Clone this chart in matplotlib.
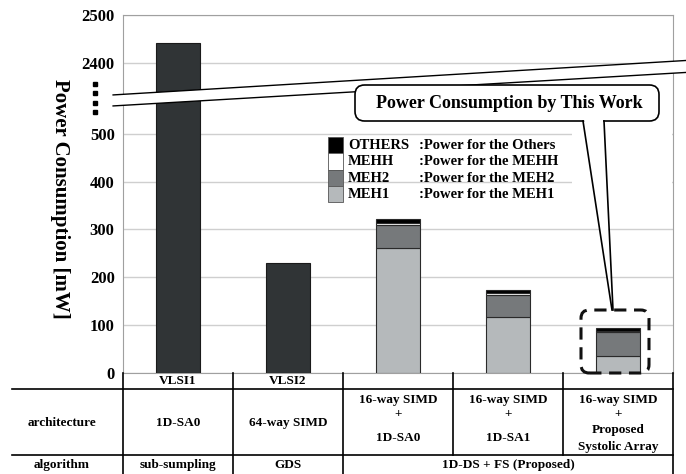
import matplotlib
matplotlib.use('Agg')
import matplotlib.pyplot as plt
import matplotlib.transforms as mtransforms
from matplotlib.patches import Rectangle, FancyBboxPatch, Polygon
from matplotlib.lines import Line2D
import numpy as np

plt.rcParams['font.family'] = ['Liberation Serif', 'DejaVu Serif']
plt.rcParams['font.weight'] = 'bold'

# data
chips = ['VLSI1', 'VLSI2', '', '', '']
arch_lines = [['1D-SA0'], ['64-way SIMD'], ['16-way SIMD', '+', '1D-SA0'],
              ['16-way SIMD', '+', '1D-SA1'],
              ['16-way SIMD', '+', 'Proposed', 'Systolic Array']]
algorithms = ['sub-sumpling', 'GDS', '1D-DS + FS (Proposed)']
algo_span = [(0, 0), (1, 1), (2, 4)]

single_power = [2442, 230]        # VLSI1, VLSI2
meh1 = [262, 116, 36]
meh2 = [48, 48, 49]
mehh = [4, 4, 3]
others = [7, 6, 6]

parts = ['MEH1', 'MEH2', 'MEHH', 'OTHERS']
part_desc = [':Power for the MEH1', ':Power for the MEH2', ':Power for the MEHH', ':Power for the Others']
part_colors = ['#b5b9bb', '#76797b', '#ffffff', '#000000']

W, H = 686, 474
SHIFT = 2400 - 648   # squash the gap 500..2400


def squash(v):
    v = np.asarray(v, dtype=float)
    return np.where(v > 500, v - SHIFT, v)


def fp(x, y):
    # pixel position -> figure fraction
    return x / W, 1 - y / H


fig = plt.figure(figsize=(W / 100, H / 100), dpi=100)
ax = fig.add_axes([123 / W, 1 - 373 / H, 550 / W, 358 / H])

x = np.arange(len(chips))
ax.bar(x[:2], squash(single_power), width=0.4, color='#303436',
       edgecolor='#1a1a1a', linewidth=0.8, zorder=3)
bottom = np.zeros(3)
for vals, col in zip([meh1, meh2, mehh, others], part_colors):
    ax.bar(x[2:], vals, width=0.4, bottom=bottom, color=col,
           edgecolor='#2a2a2a', linewidth=0.8, zorder=3)
    bottom += np.array(vals)

ax.set_xlim(-0.5, 4.5)
ax.set_ylim(0, 747)
yt = [0, 100, 200, 300, 400, 500, 2400, 2500]
ax.set_yticks(squash(yt))
ax.set_yticklabels([str(v) for v in yt])
ax.set_xticks([])
ax.tick_params(length=0, labelsize=12, pad=6)
ax.set_axisbelow(True)
ax.yaxis.grid(True, color='#cfcfcf', linewidth=1)
for s in ax.spines.values():
    s.set_color('#a0a0a0')

fig.text(60 / W, 1 - 199 / H, 'Power Consumption [mW]', rotation=270,
         ha='center', va='center', fontsize=15)

# axis break band
bt = mtransforms.blended_transform_factory(ax.transAxes, ax.transData)
xl, xr = -0.018, 1.024
band = Polygon([(xl, 558), (xl, 581), (xr, 653), (xr, 628)], closed=True,
               facecolor='white', edgecolor='none', transform=bt, clip_on=False, zorder=6)
ax.add_patch(band)
ax.add_line(Line2D([xl, xr], [581, 653], color='black', lw=1, transform=bt, clip_on=False, zorder=7))
ax.add_line(Line2D([xl, xr], [558, 628], color='black', lw=1, transform=bt, clip_on=False, zorder=7))
ax.plot([-0.051] * 4, [603, 584, 565, 546], 's', color='black', markersize=3.0,
        transform=bt, clip_on=False, zorder=7)

# legend
for i, (name, desc, col) in enumerate(zip(parts[::-1], part_desc[::-1], part_colors[::-1])):
    top = 137 + i * 16.3
    x0, y0 = fp(328, top + 16.3)
    fig.add_artist(Rectangle((x0, y0), 15 / W, 16.3 / H, facecolor=col,
                             edgecolor='#555555', linewidth=0.6, transform=fig.transFigure))
    fig.text(*fp(348, top + 8.5), name, fontsize=10.5, ha='left', va='center')
    fig.text(*fp(419, top + 8.5), desc, fontsize=10.5, ha='left', va='center')

# callout
fig.add_artist(Rectangle(fp(572, 190), 100 / W, 65 / H, facecolor='white',
                         edgecolor='none', transform=fig.transFigure, zorder=1))
bx0, by0 = fp(355, 121)
fig.add_artist(FancyBboxPatch((bx0, by0), 304 / W, 36 / H,
                              boxstyle='round,pad=0,rounding_size=0.014', mutation_aspect=W / H,
                              facecolor='white', edgecolor='black', linewidth=1.2,
                              transform=fig.transFigure, zorder=2))
fig.add_artist(Polygon([fp(584, 119.5), fp(603, 119.5), fp(612, 309)], closed=True,
                       facecolor='white', edgecolor='none', transform=fig.transFigure, zorder=3))
for xs in [(583, 612), (604, 613)]:
    (a, b), (c, d) = fp(xs[0], 121), fp(xs[1], 310)
    fig.add_artist(Line2D([a, c], [b, d], color='black', lw=1.2, transform=fig.transFigure, zorder=4))
fig.text(*fp(509, 103), 'Power Consumption by This Work', fontsize=13,
         ha='center', va='center', zorder=5)

dx0, dy0 = fp(581, 373)
fig.add_artist(FancyBboxPatch((dx0, dy0), 68 / W, 63 / H,
                              boxstyle='round,pad=0,rounding_size=0.012', mutation_aspect=W / H,
                              facecolor='none', edgecolor='#111111', linewidth=2.2,
                              linestyle=(0, (4, 2.5)), transform=fig.transFigure, zorder=5))

# table under the chart
tt = mtransforms.blended_transform_factory(ax.transData, fig.transFigure)


def hline(y, x0=12, x1=673):
    (a, b), (c, _) = fp(x0, y), fp(x1, y)
    fig.add_artist(Line2D([a, c], [b, b], color='black', lw=1.2, transform=fig.transFigure))


def vline(xd, y0, y1):
    fig.add_artist(Line2D([xd, xd], [1 - y0 / H, 1 - y1 / H], color='black', lw=1.2, transform=tt))


hline(389)
hline(455)
for xd in [-0.5, 0.5, 1.5, 4.5]:
    vline(xd, 373, 474)
for xd in [2.5, 3.5]:
    vline(xd, 373, 455)

fs = 9.5
for i, c in enumerate(chips):
    fig.text(i, 1 - 381 / H, c, transform=tt, ha='center', va='center', fontsize=fs)
fig.text(*fp(62, 423), 'architecture', ha='center', va='center', fontsize=fs)
fig.text(*fp(62, 465), 'algorithm', ha='center', va='center', fontsize=fs)
arch_y = {1: [423], 3: [400, 414, 438], 4: [400, 414, 430, 447]}
for i, lines in enumerate(arch_lines):
    for s, yy in zip(lines, arch_y[len(lines)]):
        fig.text(i, 1 - yy / H, s, transform=tt, ha='center', va='center', fontsize=fs)
for s, (a, b) in zip(algorithms, algo_span):
    fig.text((a + b) / 2, 1 - 465 / H, s, transform=tt, ha='center', va='center', fontsize=fs)

fig.savefig('out.png', dpi=100)
